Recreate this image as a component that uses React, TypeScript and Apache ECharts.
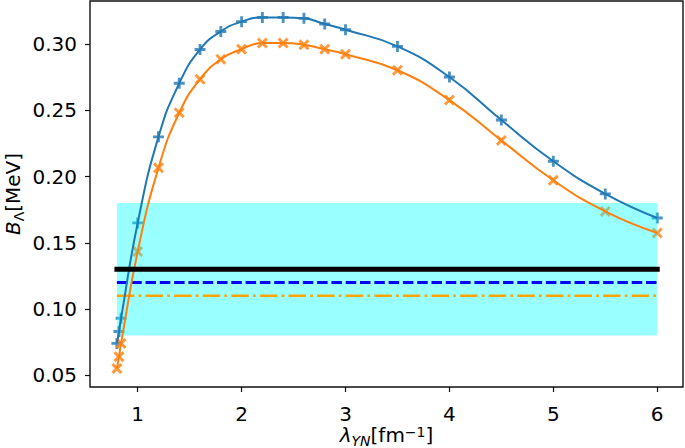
import React, { useEffect, useRef } from "react";
import * as echarts from "echarts";

const lambdaValues = [0.8, 0.82, 0.84, 1.0, 1.2, 1.4, 1.6, 1.8, 2.0, 2.2, 2.4, 2.6, 2.8, 3.0, 3.5, 4.0, 4.5, 5.0, 5.5, 6.0];
const blueValues = [0.074, 0.083, 0.093, 0.165, 0.23, 0.2705, 0.296, 0.3096, 0.317, 0.3202, 0.3202, 0.3195, 0.3152, 0.3109, 0.2983, 0.2752, 0.2427, 0.2116, 0.1869, 0.1687];
const orangeValues = [0.055, 0.064, 0.074, 0.1434, 0.2066, 0.2482, 0.2735, 0.2886, 0.2962, 0.3008, 0.3008, 0.2995, 0.2962, 0.2924, 0.2803, 0.2578, 0.2273, 0.1972, 0.1737, 0.1574];

const bandX = [0.8, 6.0];
const bandY = [0.08, 0.18];
const blackLevel = 0.13;
const blueDashLevel = 0.12;
const orangeDashDotLevel = 0.11;

const xTicks = [1, 2, 3, 4, 5, 6];
const yTicks = [0.05, 0.1, 0.15, 0.2, 0.25, 0.3];

const PLUS = "path://M37,0H63V37H100V63H63V100H37V63H0V37H37Z";
const CROSS = "path://M0,19L19,0L50,31L81,0L100,19L69,50L100,81L81,100L50,69L19,100L0,81L31,50Z";

const FONT = "DejaVu Sans";

export default function App() {
  const ref = useRef<HTMLDivElement>(null);
  useEffect(() => {
    if (!ref.current) return;
    const chart = echarts.init(ref.current, null, { renderer: "svg" });
    const blueData = lambdaValues.map((x, i) => [x, blueValues[i]]);
    const orangeData = lambdaValues.map((x, i) => [x, orangeValues[i]]);
    const hline = (y: number) => [[bandX[0], y], [bandX[1], y]];
    const option: any = {
      animation: false,
      grid: {
        left: 90,
        right: 2,
        top: 1,
        bottom: 61,
        containLabel: false,
        outerBoundsMode: "none",
        show: true,
        borderColor: "#111",
        borderWidth: 1.4,
        backgroundColor: "transparent",
      },
      xAxis: {
        type: "value",
        min: 0.541,
        max: 6.248,
        splitLine: { show: false },
        axisLine: { show: false },
        axisTick: { show: true, length: 5, lineStyle: { color: "#111", width: 1.2 }, customValues: xTicks },
        axisLabel: {
          customValues: xTicks,
          fontFamily: FONT,
          fontSize: 20,
          color: "#000",
          margin: 17,
          formatter: (v: number) => String(v),
        },
        name: "{li|λ}{sub|YN}{n|[fm}{sup|−1}{n|]}",
        nameLocation: "middle",
        nameGap: 38,
        nameMoveOverlap: false,
        nameTextStyle: {
          rich: {
            li: { fontFamily: FONT, fontSize: 20, fontStyle: "italic", color: "#000", verticalAlign: "top" },
            sub: { fontFamily: FONT, fontSize: 14, fontStyle: "italic", color: "#000", verticalAlign: "top", padding: [9, 0, 0, 0] },
            n: { fontFamily: FONT, fontSize: 20, color: "#000", verticalAlign: "top" },
            sup: { fontFamily: FONT, fontSize: 14, color: "#000", verticalAlign: "top", padding: [0, 0, 0, 0] },
          },
        },
      },
      yAxis: {
        type: "value",
        min: 0.0411,
        max: 0.3326,
        splitLine: { show: false },
        axisLine: { show: false },
        axisTick: { show: true, length: 5, lineStyle: { color: "#111", width: 1.2 }, customValues: yTicks },
        axisLabel: {
          customValues: yTicks,
          fontFamily: FONT,
          fontSize: 20,
          color: "#000",
          margin: 13,
          formatter: (v: number) => v.toFixed(2),
        },
        name: "{bi|B}{sub|Λ}{n|[MeV]}",
        nameLocation: "middle",
        nameRotate: 90,
        nameGap: 64,
        nameMoveOverlap: false,
        nameTextStyle: {
          rich: {
            bi: { fontFamily: FONT, fontSize: 20, fontStyle: "italic", color: "#000", verticalAlign: "top" },
            sub: { fontFamily: FONT, fontSize: 14, color: "#000", verticalAlign: "top", padding: [9, 0, 0, 0] },
            n: { fontFamily: FONT, fontSize: 20, color: "#000", verticalAlign: "top" },
          },
        },
      },
      series: [
        {
          type: "scatter",
          data: blueData,
          symbol: PLUS,
          symbolSize: 11,
          itemStyle: { color: "#1f77b4" },
          z: 1,
        },
        {
          type: "scatter",
          data: orangeData,
          symbol: CROSS,
          symbolSize: 11,
          itemStyle: { color: "#ff7f0e" },
          z: 1,
        },
        {
          type: "custom",
          data: [[bandX[0], bandY[0], bandX[1], bandY[1]]],
          z: 2,
          silent: true,
          renderItem: (params: any, api: any) => {
            const p0 = api.coord([api.value(0), api.value(3)]);
            const p1 = api.coord([api.value(2), api.value(1)]);
            return {
              type: "rect",
              shape: { x: p0[0], y: p0[1], width: p1[0] - p0[0], height: p1[1] - p0[1] },
              style: { fill: "rgba(0,255,255,0.4)" },
            };
          },
        },
        {
          type: "line",
          data: hline(blueDashLevel),
          symbol: "none",
          lineStyle: { color: "#0000ff", width: 3, type: [10.5, 3.8] },
          z: 3,
        },
        {
          type: "line",
          data: hline(orangeDashDotLevel),
          symbol: "none",
          lineStyle: { color: "#ffa500", width: 2.3, type: [17.5, 4.2, 2.7, 4.2] },
          z: 3,
        },
        {
          type: "line",
          data: blueData,
          symbol: "none",
          smooth: 0.5,
          lineStyle: { color: "#1f77b4", width: 2 },
          z: 4,
        },
        {
          type: "line",
          data: orangeData,
          symbol: "none",
          smooth: 0.5,
          lineStyle: { color: "#ff7f0e", width: 2 },
          z: 4,
        },
        {
          type: "line",
          data: hline(blackLevel),
          symbol: "none",
          lineStyle: { color: "#000", width: 5, cap: "square" },
          z: 5,
        },
      ],
    };
    chart.setOption(option);
    return () => chart.dispose();
  }, []);
  return (
    <div
      ref={ref}
      style={{ position: "fixed", left: 0, top: 0, width: 685, height: 448, background: "#fff" }}
    />
  );
}
